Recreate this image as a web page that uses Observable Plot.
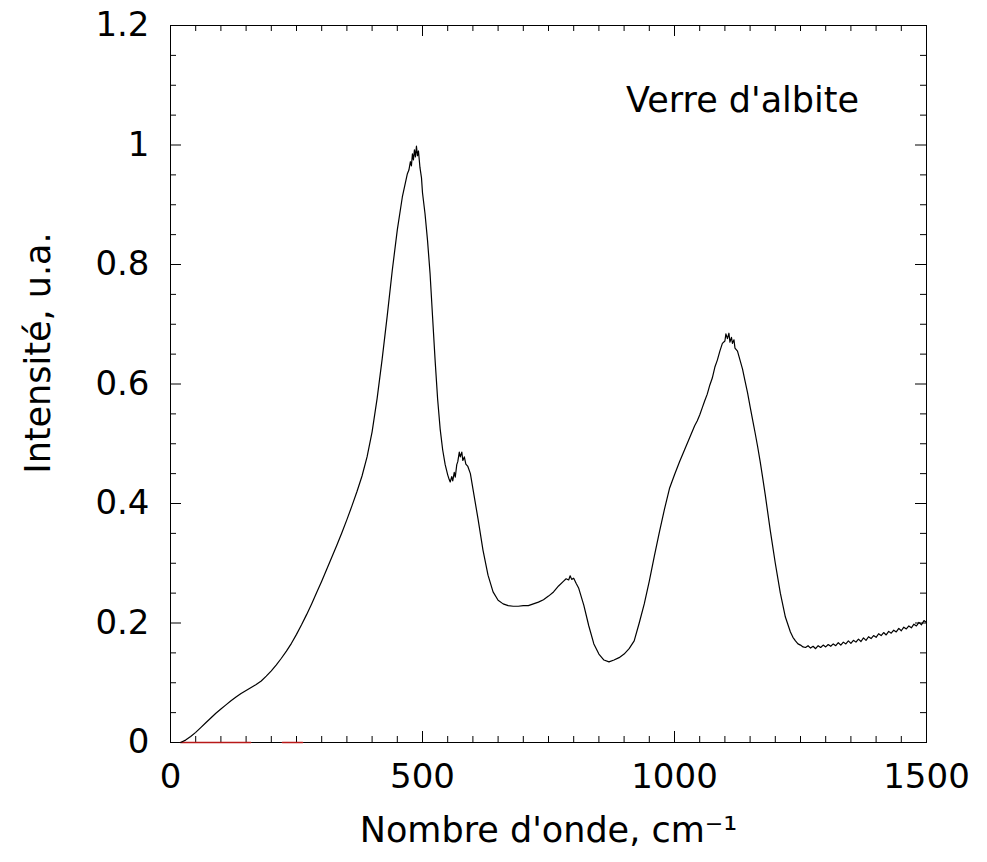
<!DOCTYPE html>
<html><head><meta charset="utf-8">
<script src="https://cdn.jsdelivr.net/npm/d3@7"></script>
<script src="https://cdn.jsdelivr.net/npm/@observablehq/plot@0.6"></script>
<style>body{margin:0;background:#fff}</style>
</head><body><div id="chart"></div>
<script>
// Raman spectrum of albite glass
const wavenumber = [20,30,40,50,60,70,80,90,100,110,120,130,140,150,160,170,180,190,200,210,220,230,240,250,260,270,280,290,300,310,320,330,340,350,360,370,380,390,400,410,420,430,440,450,460,470,473,476,478,480,482,484,486,488,490,492,495,498,500,505,510,515,520,525,530,535,540,545,550,553,555,558,560,563,565,568,570,573,575,578,580,583,586,590,595,600,610,620,630,640,650,660,670,680,690,700,710,720,730,740,750,760,770,780,785,790,793,796,800,805,810,820,830,840,850,860,870,880,890,900,910,920,930,940,950,960,970,980,990,1000,1010,1020,1030,1040,1045,1050,1055,1060,1065,1070,1075,1080,1085,1090,1095,1100,1102,1105,1108,1110,1113,1115,1118,1120,1125,1130,1135,1140,1145,1150,1155,1160,1165,1170,1175,1180,1190,1200,1210,1220,1230,1235,1240,1245,1250,1255,1260,1265,1270,1275,1280,1285,1290,1295,1300,1305,1310,1315,1320,1325,1330,1335,1340,1345,1350,1355,1360,1365,1370,1375,1380,1385,1390,1395,1400,1405,1410,1415,1420,1425,1430,1435,1440,1445,1450,1455,1460,1465,1470,1475,1480,1485,1490,1495,1500];
const intensity = [0.000,0.004,0.010,0.017,0.025,0.033,0.041,0.049,0.056,0.063,0.070,0.076,0.082,0.087,0.092,0.097,0.103,0.111,0.120,0.130,0.141,0.153,0.166,0.181,0.197,0.214,0.232,0.251,0.270,0.290,0.310,0.330,0.351,0.373,0.396,0.420,0.446,0.478,0.520,0.576,0.642,0.714,0.790,0.858,0.913,0.952,0.958,0.972,0.965,0.985,0.975,0.992,0.980,0.998,0.982,0.990,0.962,0.945,0.920,0.885,0.840,0.785,0.712,0.640,0.575,0.525,0.490,0.465,0.448,0.440,0.436,0.445,0.438,0.452,0.444,0.465,0.470,0.486,0.478,0.486,0.472,0.478,0.466,0.462,0.450,0.425,0.375,0.322,0.280,0.252,0.238,0.232,0.229,0.228,0.228,0.229,0.229,0.232,0.235,0.239,0.245,0.252,0.262,0.270,0.274,0.272,0.279,0.273,0.275,0.266,0.258,0.230,0.195,0.165,0.148,0.138,0.135,0.138,0.142,0.148,0.157,0.170,0.200,0.232,0.270,0.312,0.352,0.390,0.425,0.448,0.470,0.490,0.510,0.530,0.538,0.548,0.560,0.572,0.583,0.598,0.610,0.628,0.640,0.655,0.668,0.672,0.684,0.676,0.685,0.670,0.678,0.668,0.674,0.660,0.655,0.640,0.625,0.605,0.585,0.562,0.540,0.518,0.495,0.470,0.443,0.415,0.355,0.300,0.250,0.210,0.185,0.176,0.170,0.165,0.163,0.160,0.159,0.162,0.158,0.161,0.157,0.162,0.159,0.163,0.160,0.164,0.161,0.165,0.162,0.167,0.163,0.168,0.165,0.170,0.166,0.171,0.168,0.173,0.169,0.175,0.171,0.177,0.174,0.179,0.176,0.182,0.179,0.184,0.180,0.186,0.183,0.188,0.185,0.191,0.187,0.193,0.190,0.195,0.192,0.198,0.195,0.201,0.197,0.204,0.201];

// red baseline trace near zero
const baselineX = [20,159,190,222,262];
const baselineY = [0,0,NaN,0,0];

const xTickLabels = [0,500,1000,1500];
const yTickLabels = [0,0.2,0.4,0.6,0.8,1,1.2];
const xMinorTicks = [50,100,150,200,250,300,350,400,450,550,600,650,700,750,800,850,900,950,1050,1100,1150,1200,1250,1300,1350,1400,1450];
const xMajorTicks = [500,1000];
const yMinorTicks = [0.05,0.1,0.15,0.25,0.3,0.35,0.45,0.5,0.55,0.65,0.7,0.75,0.85,0.9,0.95,1.05,1.1,1.15];
const yMajorTicks = [0.2,0.4,0.6,0.8,1];

const spectrum = wavenumber.map((x, i) => ({x, y: intensity[i]}));
const baseline = baselineX.map((x, i) => ({x, y: baselineY[i]}));

const pxY = 1.2 / 717;   // data units per pixel along y
const pxX = 1500 / 756;  // data units per pixel along x

const chart = Plot.plot({
  width: 987, height: 862,
  marginLeft: 170, marginRight: 61, marginTop: 25, marginBottom: 120,
  style: {fontFamily: "DejaVu Sans", fontSize: "34px", background: "white", color: "black"},
  x: {domain: [0, 1500]},
  y: {domain: [0, 1.2]},
  marks: [
    Plot.frame({stroke: "black", strokeWidth: 1}),
    Plot.ruleX(xMinorTicks, {x: d => d, y1: 0, y2: 6 * pxY, stroke: "black"}),
    Plot.ruleX(xMinorTicks, {x: d => d, y1: 1.2, y2: 1.2 - 6 * pxY, stroke: "black"}),
    Plot.ruleX(xMajorTicks, {x: d => d, y1: 0, y2: 11 * pxY, stroke: "black"}),
    Plot.ruleX(xMajorTicks, {x: d => d, y1: 1.2, y2: 1.2 - 11 * pxY, stroke: "black"}),
    Plot.ruleY(yMinorTicks, {y: d => d, x1: 0, x2: 6 * pxX, stroke: "black"}),
    Plot.ruleY(yMinorTicks, {y: d => d, x1: 1500, x2: 1500 - 6 * pxX, stroke: "black"}),
    Plot.ruleY(yMajorTicks, {y: d => d, x1: 0, x2: 11 * pxX, stroke: "black"}),
    Plot.ruleY(yMajorTicks, {y: d => d, x1: 1500, x2: 1500 - 11 * pxX, stroke: "black"}),
    Plot.line(baseline, {x: "x", y: "y", stroke: "#b81818", strokeWidth: 1.5}),
    Plot.line(spectrum, {x: "x", y: "y", stroke: "black", strokeWidth: 1.2}),
    Plot.axisX({ticks: xTickLabels, tickSize: 0, tickPadding: 21, tickFormat: d => String(d), label: null}),
    Plot.axisY({ticks: yTickLabels, tickSize: 0, tickPadding: 21, tickFormat: d => String(+d.toFixed(1)), label: null}),
    Plot.text(["Nombre d'onde, cm⁻¹"], {text: d => d, frameAnchor: "bottom", textAnchor: "middle", lineAnchor: "middle", dy: 88, fontSize: 35}),
    Plot.text(["Intensité, u.a."], {text: d => d, frameAnchor: "left", textAnchor: "middle", lineAnchor: "middle", dx: -132, dy: -31, rotate: -90, fontSize: 35}),
    Plot.text(["Verre d'albite"], {text: d => d, x: 1135, y: 1.074, textAnchor: "middle", lineAnchor: "middle", fontSize: 35})
  ]
});
document.getElementById("chart").appendChild(chart);
</script>
</body></html>
